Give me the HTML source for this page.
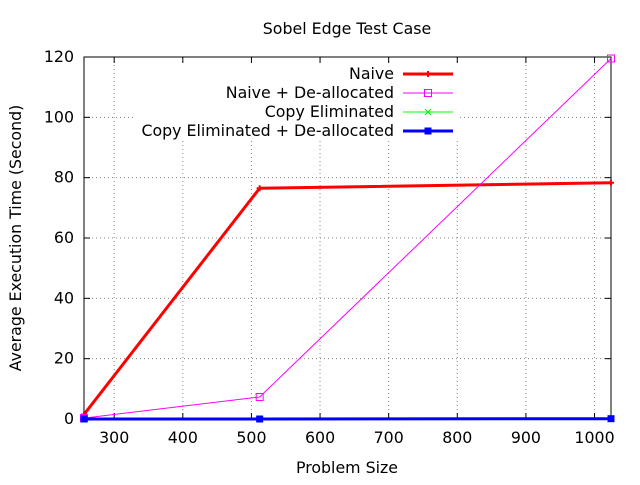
<!DOCTYPE html>
<html><head><meta charset="utf-8"><style>
body{margin:0;background:#fff}
text{font-family:"DejaVu Sans","Liberation Sans",sans-serif;font-size:15.8px;fill:#000}
</style></head><body>
<svg id="chart" width="640" height="480" xmlns="http://www.w3.org/2000/svg">
<text x="347" y="34" text-anchor="middle">Sobel Edge Test Case</text>
<g id="grid"></g>
<g id="axes"></g>
<text x="347" y="473" text-anchor="middle">Problem Size</text>
<text transform="translate(21,238) rotate(-90)" text-anchor="middle">Average Execution Time (Second)</text>
<g id="series"></g>
<g id="legend"></g>
</svg>
<script>
const sizes=[256,512,1024];
const naive=[1.5,76.5,78.3];
const naiveDealloc=[0.3,7.3,119.5];
const copyElim=[0,0,0.1];
const copyElimDealloc=[0,0,0.1];
const xTicks=[300,400,500,600,700,800,900,1000];
const yTicks=[0,20,40,60,80,100,120];
const seriesNames=["Naive","Naive + De-allocated","Copy Eliminated","Copy Eliminated + De-allocated"];
const L=84,R=611,T=57,B=419;
const X=v=>L+(v-256)/(1024-256)*(R-L);
const Y=v=>B-v/120*(B-T);
const NS="http://www.w3.org/2000/svg";
function mk(tag,attrs,parent){const e=document.createElementNS(NS,tag);for(const k in attrs)e.setAttribute(k,attrs[k]);parent.appendChild(e);return e;}
const grid=document.getElementById('grid'),axes=document.getElementById('axes');
xTicks.forEach(t=>{const x=X(t);
 const g=mk('line',{x1:x,x2:x,y1:T,y2:B,stroke:'#888','stroke-dasharray':'1,3'},grid);
 
 mk('line',{x1:x,x2:x,y1:B,y2:B-6,stroke:'#000'},axes);mk('line',{x1:x,x2:x,y1:T,y2:T+6,stroke:'#000'},axes);
 const tx=mk('text',{x:x,y:B+24,'text-anchor':'middle'},axes);tx.textContent=t;
 });
yTicks.forEach(t=>{const y=Y(t);
 if(t>0&&t<120){const g=mk('line',{x1:L,x2:R,y1:y,y2:y,stroke:'#888','stroke-dasharray':'1,3'},grid);
 }
 mk('line',{x1:L,x2:L+6,y1:y,y2:y,stroke:'#000'},axes);mk('line',{x1:R,x2:R-6,y1:y,y2:y,stroke:'#000'},axes);
 const tx=mk('text',{x:L-10,y:y+5,'text-anchor':'end'},axes);tx.textContent=t;
 });
mk('rect',{x:136,y:64,width:322,height:76,fill:'#fff'},grid);
mk('rect',{x:L,y:T,width:R-L,height:B-T,fill:'none',stroke:'#000'},axes);
const sers=[[naive,'#ff0000',3,'plus'],[naiveDealloc,'#ff00ff',1,'square'],[copyElim,'#00ff00',1,'x'],[copyElimDealloc,'#0000ff',3,'dot']];
const sg=document.getElementById('series'),lg=document.getElementById('legend');
function marker(type,x,y,c,p){
 if(type==='plus'){mk('path',{d:`M${x-3},${y}h6M${x},${y-3}v6`,stroke:c,'stroke-width':2},p);}
 else if(type==='square'){mk('rect',{x:x-3.5,y:y-3.5,width:7,height:7,fill:'none',stroke:c},p);}
 else if(type==='x'){mk('path',{d:`M${x-3},${y-3}l6,6M${x-3},${y+3}l6,-6`,stroke:c},p);}
 else {mk('rect',{x:x-3.5,y:y-3.5,width:7,height:7,fill:c},p);}
}
sers.forEach((s,i)=>{const [vals,c,w,m]=s;
 const pts=vals.map((v,j)=>X(sizes[j])+','+Y(v)).join(' ');
 const pl=mk('polyline',{points:pts,fill:'none',stroke:c,'stroke-width':w},sg);
 
 vals.forEach((v,j)=>marker(m,X(sizes[j]),Y(v),c,sg));
 const ly=74+i*19;
 const tx=mk('text',{x:394,y:ly+5,'text-anchor':'end'},lg);tx.textContent=seriesNames[i];
 
 mk('line',{x1:403,x2:453,y1:ly,y2:ly,stroke:c,'stroke-width':w},lg);
 marker(m,428,ly,c,lg);
});
</script>
</body></html>
